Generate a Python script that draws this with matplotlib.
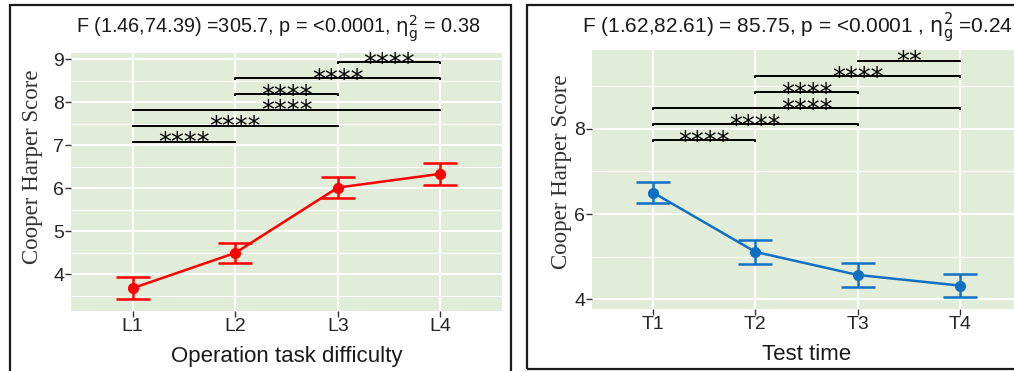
import numpy as np
import matplotlib
matplotlib.use("Agg")
import matplotlib.pyplot as plt
from matplotlib.patches import Rectangle
from matplotlib.ticker import MultipleLocator

plt.rcParams['font.family'] = ['Liberation Sans', 'DejaVu Sans']

# ---------------- data ----------------
left_labels = ["L1", "L2", "L3", "L4"]
left_mean = [3.68, 4.50, 6.02, 6.34]
left_err = [0.25, 0.24, 0.25, 0.26]
left_pairs = [(1, 2), (1, 3), (1, 4), (2, 3), (2, 4), (3, 4)]
left_sig = ["****", "****", "****", "****", "****", "****"]
left_bracket_y = [7.09, 7.46, 7.83, 8.20, 8.57, 8.94]
left_title = "F (1.46,74.39) =305.7, p = <0.0001, $\\mathrm{\\eta}^2_\\mathrm{g}$ = 0.38"

right_labels = ["T1", "T2", "T3", "T4"]
right_mean = [6.50, 5.11, 4.57, 4.32]
right_err = [0.25, 0.28, 0.28, 0.27]
right_pairs = [(1, 2), (1, 3), (1, 4), (2, 3), (2, 4), (3, 4)]
right_sig = ["****", "****", "****", "****", "****", "**"]
right_bracket_y = [7.74, 8.11, 8.48, 8.86, 9.23, 9.60]
right_title = "F (1.62,82.61) = 85.75, p = <0.0001 , $\\mathrm{\\eta}^2_\\mathrm{g}$ =0.24"

BG = "#E1EDD8"
W, H = 1014, 371


def panel(ax, labels, mean, err, pairs, sig, by, color, ylim, yticks, minor, title, xlabel,
          ylab_pos, title_x, title_size, title_pad):
    x = np.arange(1, len(labels) + 1)
    ax.set_facecolor(BG)
    ax.set_xlim(0.4, 4.6)
    ax.set_ylim(*ylim)
    ax.set_yticks(yticks)
    ax.yaxis.set_minor_locator(MultipleLocator(minor))
    ax.set_xticks(x)
    ax.set_xticklabels(labels)
    ax.grid(True, which="major", color="white", lw=1.4)
    ax.grid(True, which="minor", axis="y", color="white", lw=0.7)
    ax.set_axisbelow(True)
    for s in ax.spines.values():
        s.set_visible(False)
    ax.tick_params(axis="both", which="major", length=4, width=1.0, color="#333333",
                   labelcolor="#262626", pad=1, labelsize=14)
    ax.tick_params(which="minor", length=0)

    ax.errorbar(x, mean, yerr=err, color=color, lw=1.8, elinewidth=1.8,
                capsize=12, capthick=1.8, marker="o", markersize=7)

    # significance brackets
    for (a, b), s, yy in zip(pairs, sig, by):
        tip = 0.04
        ax.plot([a, a, b, b], [yy - tip, yy, yy, yy - tip], color="black", lw=1.4,
                solid_capstyle="butt")
        ax.annotate(s, xy=((a + b) / 2, yy), xytext=(0, -7), textcoords="offset points",
                    ha="center", va="baseline", fontsize=18.5, color="black",
                    family="DejaVu Sans")

    ax.set_title(title, fontsize=title_size, pad=title_pad, color="#1a1a1a", x=title_x)
    ax.set_xlabel(xlabel, fontsize=16, labelpad=8, color="#1a1a1a")
    ax.set_ylabel("Cooper Harper Score", fontsize=16.5, family="Liberation Serif",
                  color="#333333")
    ax.yaxis.set_label_coords(*ylab_pos)


fig = plt.figure(figsize=(W / 100, H / 100), dpi=100)

# panel frames
fig.patches.append(Rectangle((10 / W, -0.05), (511 - 10) / W, (H - 5) / H + 0.05,
                             transform=fig.transFigure, fill=False, ec="#1a1a1a", lw=1.6))
fig.patches.append(Rectangle((527 / W, (H - 369) / H), 1.0, (369 - 5) / H,
                             transform=fig.transFigure, fill=False, ec="#1a1a1a", lw=1.6))

ax1 = fig.add_axes([71 / W, (H - 311) / H, 431 / W, 258 / H])
panel(ax1, left_labels, left_mean, left_err, left_pairs, left_sig, left_bracket_y,
      "#FF0000", (3.15, 9.15), [4, 5, 6, 7, 8, 9], 0.5, left_title, "Operation task difficulty",
      (-0.065, 0.56), 0.481, 14.3, 14)

ax2 = fig.add_axes([592 / W, (H - 309) / H, 429 / W, 259 / H])
panel(ax2, right_labels, right_mean, right_err, right_pairs, right_sig, right_bracket_y,
      "#1170C4", (3.77, 9.85), [4, 6, 8], 1.0, right_title, "Test time",
      (-0.047, 0.53), 0.48, 15, 12)

fig.savefig("out.png", dpi=100)
